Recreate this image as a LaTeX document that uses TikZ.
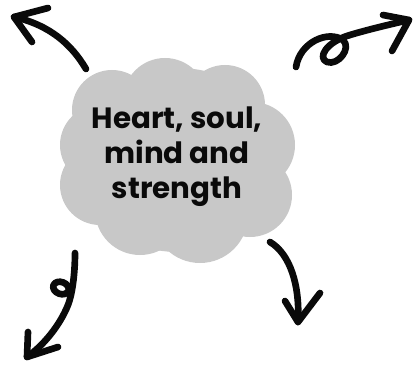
\documentclass[tikz,border=0pt]{standalone}
\usepackage{fontspec}
\setmainfont{Poppins}
\usetikzlibrary{positioning}
\definecolor{cloudgrey}{HTML}{C8C8C8}
\definecolor{inkblack}{HTML}{0A0A0A}

\begin{document}
\begin{tikzpicture}[x=0.75pt,y=-0.75pt,
  puff/.style={fill=cloudgrey,draw=none},
  label/.style={align=center,font=\fontsize{22}{26.3}\selectfont\bfseries,text=inkblack},
  stroke/.style={draw=inkblack,line width=5pt,line cap=round,line join=round}]
  \useasboundingbox (0,0) rectangle (416,366);
  % cloud
  \fill[puff] (178,160) ellipse [x radius=106,y radius=92];
  \foreach \cx/\cy/\r in {112/110/40,165/100/42,225/105/40,252/145/43,250/195/42,
                          200/215/48,140/210/45,100/185/40,100/145/40}
    \fill[puff] (\cx,\cy) circle [radius=\r];
  \node[label] (heart) at (177,157) {Heart, soul,\\mind and\\strength};
  % arrow ends
  \coordinate (nwstart) at (86,69);
  \coordinate (nwtip) at (14,17);
  \coordinate (nestart) at (296,67);
  \coordinate (netip) at (409,20);
  \coordinate (swstart) at (75,253);
  \coordinate (swtip) at (27,357);
  \coordinate (sestart) at (270,242);
  \coordinate (setip) at (298,322);
  % top left
  \draw[stroke] (nwstart) .. controls (72,45) and (50,25) .. (nwtip);
  \draw[stroke] (48,8) -- (nwtip) -- (32,42);
  % top right, with a loop
  \draw[stroke] (nestart) .. controls (300,42) and (328,30) .. (343,40)
    .. controls (352,48) and (338,66) .. (327,62)
    .. controls (317,58) and (326,42) .. (350,35)
    .. controls (370,29) and (392,24) .. (netip);
  \draw[stroke] (383,15) -- (netip) -- (392,51);
  % bottom left, with a loop
  \draw[stroke] (swstart) .. controls (75,275) and (72,295) .. (68,305)
    .. controls (60,325) and (44,345) .. (swtip);
  \draw[stroke] (61,288) ellipse [x radius=8,y radius=6,rotate=-20];
  \draw[stroke] (28,332) -- (swtip) -- (58,347);
  % bottom right
  \draw[stroke] (sestart) .. controls (290,254) and (300,285) .. (setip);
  \draw[stroke] (285,301) -- (setip) -- (320,293);
\end{tikzpicture}
\end{document}
